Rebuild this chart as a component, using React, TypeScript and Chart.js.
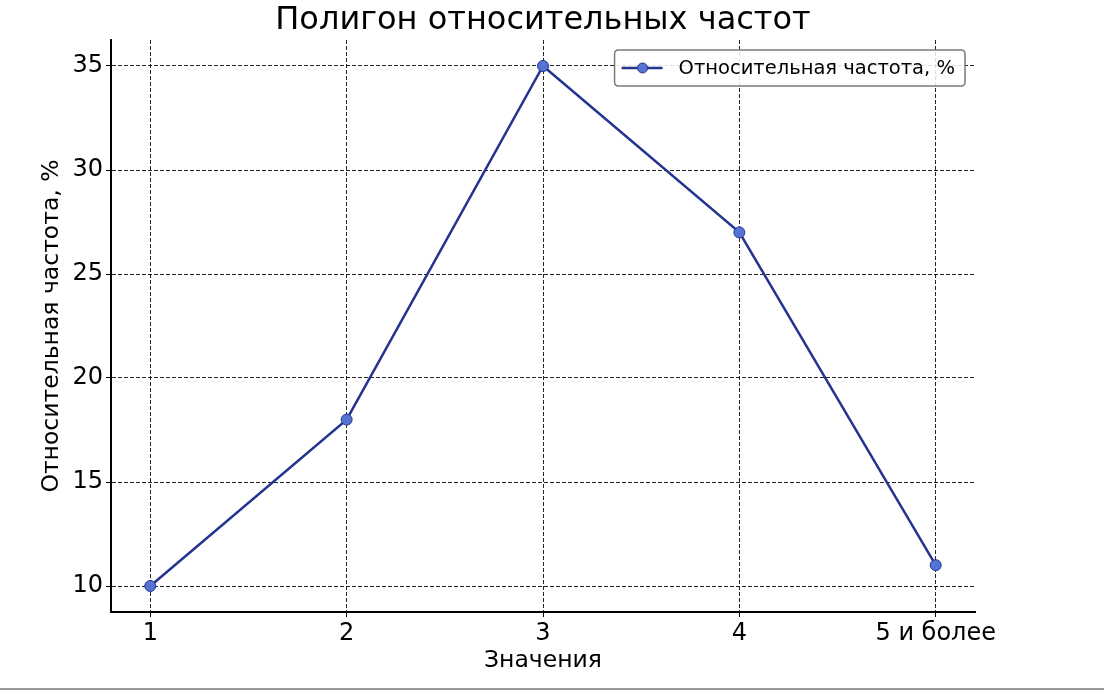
import React, { useEffect, useRef } from "react";
import { Chart, registerables } from "chart.js";

Chart.register(...registerables);

const categories: string[] = ["1", "2", "3", "4", "5 и более"];
const relFreq: number[] = [10, 18, 35, 27, 11];
const yTicks: number[] = [10, 15, 20, 25, 30, 35];

const TITLE = "Полигон относительных частот";
const SERIES = "Относительная частота, %";
const X_TITLE = "Значения";
const Y_TITLE = "Относительная частота, %";

const FONT = "'DejaVu Sans', sans-serif";
const LINE_COLOR = "#24348f";
const POINT_FILL = "#5573d2";

const W = 1104;
const H = 694;

export default function App() {
  const ref = useRef<HTMLCanvasElement | null>(null);

  useEffect(() => {
    const canvas = ref.current;
    if (!canvas) return;

    const decorPlugin = {
      id: "decor",
      afterDraw(chart: any) {
        const ctx = chart.ctx;
        const area = chart.chartArea;
        ctx.save();
        // title
        ctx.font = `32px ${FONT}`;
        ctx.fillStyle = "#000";
        ctx.textAlign = "center";
        ctx.textBaseline = "alphabetic";
        ctx.fillText(TITLE, (area.left + area.right) / 2, 29);

        // legend box
        ctx.font = `19.5px ${FONT}`;
        const tw = ctx.measureText(SERIES).width;
        const boxH = 36;
        const boxW = 64 + tw + 10;
        const x1 = area.right - 10;
        const x0 = x1 - boxW;
        const y0 = area.top + 10;
        const r = 4;
        ctx.beginPath();
        ctx.moveTo(x0 + r, y0);
        ctx.lineTo(x1 - r, y0);
        ctx.quadraticCurveTo(x1, y0, x1, y0 + r);
        ctx.lineTo(x1, y0 + boxH - r);
        ctx.quadraticCurveTo(x1, y0 + boxH, x1 - r, y0 + boxH);
        ctx.lineTo(x0 + r, y0 + boxH);
        ctx.quadraticCurveTo(x0, y0 + boxH, x0, y0 + boxH - r);
        ctx.lineTo(x0, y0 + r);
        ctx.quadraticCurveTo(x0, y0, x0 + r, y0);
        ctx.closePath();
        ctx.fillStyle = "rgba(255,255,255,0.85)";
        ctx.fill();
        ctx.strokeStyle = "#7a7a7a";
        ctx.lineWidth = 1.5;
        ctx.stroke();
        const cy = y0 + boxH / 2;
        ctx.beginPath();
        ctx.moveTo(x0 + 7, cy);
        ctx.lineTo(x0 + 48, cy);
        ctx.strokeStyle = LINE_COLOR;
        ctx.lineWidth = 2.5;
        ctx.stroke();
        ctx.beginPath();
        ctx.arc(x0 + 28, cy, 5, 0, Math.PI * 2);
        ctx.fillStyle = POINT_FILL;
        ctx.fill();
        ctx.strokeStyle = LINE_COLOR;
        ctx.lineWidth = 1;
        ctx.stroke();
        ctx.fillStyle = "#000";
        ctx.textBaseline = "middle";
        ctx.textAlign = "left";
        ctx.fillText(SERIES, x0 + 64, cy + 1);
        // bottom gray border line
        ctx.fillStyle = "#9a9a9a";
        ctx.fillRect(0, 688, W, 2);
        ctx.restore();
      },
    };

    const chart = new Chart(canvas, {
      type: "line",
      data: {
        datasets: [
          {
            label: SERIES,
            data: relFreq.map((v, i) => ({ x: i + 1, y: v })),
            borderColor: LINE_COLOR,
            borderWidth: 2.5,
            backgroundColor: POINT_FILL,
            pointBackgroundColor: POINT_FILL,
            pointBorderColor: LINE_COLOR,
            pointBorderWidth: 1,
            pointRadius: 5.5,
            tension: 0,
          },
        ],
      },
      options: {
        responsive: false,
        animation: false,
        layout: { padding: { left: 0, right: W - 975, top: 40, bottom: 0 } },
        plugins: {
          legend: { display: false },
          tooltip: { enabled: false },
          title: { display: false },
        },
        scales: {
          x: {
            type: "linear",
            min: 0.8,
            max: 5.2,
            afterBuildTicks: (scale: any) => {
              scale.ticks = categories.map((_, i) => ({ value: i + 1 }));
            },
            afterFit: (scale: any) => {
              scale.height = H - 612;
            },
            ticks: {
              color: "#000",
              font: { family: FONT, size: 24 },
              padding: 2,
              maxRotation: 0,
              autoSkip: false,
              callback: (v: any) => categories[Math.round(Number(v)) - 1] ?? "",
            },
            grid: {
              color: "rgba(0,0,0,0.85)",
              lineWidth: 1,
              drawTicks: true,
              tickLength: 5,
              tickColor: "#000",
            } as any,
            border: { display: true, color: "#000", width: 2, dash: [4, 2] } as any,
            title: {
              display: true,
              text: X_TITLE,
              color: "#000",
              font: { family: FONT, size: 23.5, lineHeight: 1.2 },
              padding: { top: 0, bottom: 19 },
            },
          },
          y: {
            type: "linear",
            min: 8.75,
            max: 36.25,
            afterBuildTicks: (scale: any) => {
              scale.ticks = yTicks.map((v) => ({ value: v }));
            },
            afterFit: (scale: any) => {
              scale.width = 111;
            },
            ticks: {
              color: "#000",
              font: { family: FONT, size: 24 },
              padding: 3,
              callback: (v: any) => String(v),
            },
            grid: {
              color: "rgba(0,0,0,0.85)",
              lineWidth: 1,
              drawTicks: true,
              tickLength: 5,
              tickColor: "#000",
            } as any,
            border: { display: true, color: "#000", width: 2, dash: [4, 2] } as any,
            title: {
              display: true,
              text: Y_TITLE,
              color: "#000",
              font: { family: FONT, size: 23.5, lineHeight: 1.2 },
              padding: { top: 38, bottom: 0 },
            },
          },
        },
      },
      plugins: [decorPlugin],
    } as any);

    return () => chart.destroy();
  }, []);

  return (
    <div style={{ position: "fixed", left: 0, top: 0, width: W, height: H, background: "#fff" }}>
      <canvas ref={ref} width={W} height={H} style={{ width: W, height: H, display: "block" }} />
    </div>
  );
}
